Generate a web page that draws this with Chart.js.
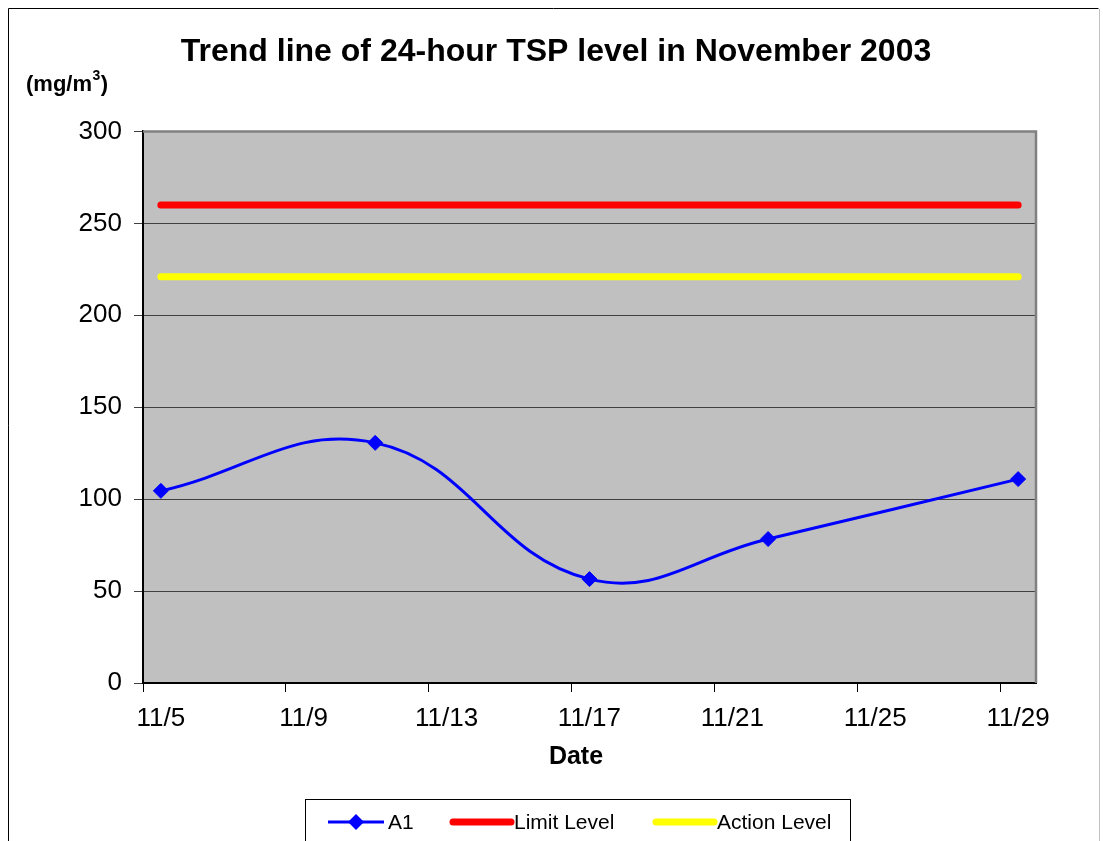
<!DOCTYPE html>
<html>
<head>
<meta charset="utf-8">
<script src="https://cdn.jsdelivr.net/npm/chart.js@4.4.1/dist/chart.umd.min.js"></script>
<style>
  html, body { margin: 0; padding: 0; background: #fff; }
  #wrap { width: 1103px; height: 841px; }
</style>
</head>
<body>
<div id="wrap"><canvas id="chart"></canvas></div>
<script>
const titleText = "Trend line of 24-hour TSP level in November 2003";
const unitText = "(mg/m";
const xTitle = "Date";

// sample dates (day of November 2003)
const sampleDays = [5, 11, 17, 22, 29];
const a1Values = [104.5, 130.6, 56.5, 78.3, 110.9];
const limitValues = [260, 260, 260, 260, 260];
const actionValues = [221, 221, 221, 221, 221];

const xTickDays = [5, 9, 13, 17, 21, 25, 29];

const FONT = "'Liberation Sans', Arial, sans-serif";

// excel date axis puts each day in the middle of its slot
function toPoints(values) {
  return sampleDays.map((d, i) => ({ x: d + 0.5, y: values[i] }));
}

const datasets = [
  {
    label: "A1",
    data: toPoints(a1Values),
    borderColor: "#0000ff",
    backgroundColor: "#0000ff",
    borderWidth: 3,
    tension: 0.42,
    pointStyle: "rectRot",
    pointRadius: 7.5,
    pointBorderWidth: 1,
  },
  {
    label: "Limit Level",
    data: toPoints(limitValues),
    borderColor: "#ff0000",
    backgroundColor: "#ff0000",
    borderWidth: 7,
    borderCapStyle: "round",
    pointRadius: 0,
  },
  {
    label: "Action Level",
    data: toPoints(actionValues),
    borderColor: "#ffff00",
    backgroundColor: "#ffff00",
    borderWidth: 7,
    borderCapStyle: "round",
    pointRadius: 0,
  },
];

// legend entries: line start/end and text start
const legendItems = [
  { x0: 328, x1: 384, tx: 388 },
  { x0: 453, x1: 511, tx: 514 },
  { x0: 656, x1: 714, tx: 717 },
];

const plotBackground = {
  id: "plotBackground",
  beforeDraw(chart) {
    const { ctx, chartArea: a } = chart;
    ctx.save();
    ctx.fillStyle = "#fff";
    ctx.fillRect(0, 0, chart.width, chart.height);
    // outer frame
    ctx.strokeStyle = "#000";
    ctx.lineWidth = 1;
    ctx.beginPath();
    ctx.moveTo(8.5, 845);
    ctx.lineTo(8.5, 8.5);
    ctx.lineTo(1098.5, 8.5);
    ctx.stroke();
    ctx.strokeStyle = "#c0c0c0";
    ctx.beginPath();
    ctx.moveTo(1099.5, 9);
    ctx.lineTo(1099.5, 845);
    ctx.stroke();
    ctx.fillStyle = "#c0c0c0";
    ctx.fillRect(a.left, a.top, a.right - a.left, a.bottom - a.top);
    ctx.restore();
  },
  beforeDatasetsDraw(chart) {
    const { ctx, chartArea: a } = chart;
    ctx.save();
    ctx.strokeStyle = "#808080";
    ctx.lineWidth = 2.5;
    ctx.beginPath();
    ctx.moveTo(a.left, a.top);
    ctx.lineTo(a.right, a.top);
    ctx.lineTo(a.right, a.bottom);
    ctx.stroke();
    ctx.restore();
  },
  afterDraw(chart) {
    const { ctx } = chart;
    ctx.save();
    // unit label
    ctx.fillStyle = "#000";
    ctx.textBaseline = "alphabetic";
    ctx.font = "bold 22px " + FONT;
    ctx.fillText(unitText, 26, 91);
    let x = 26 + ctx.measureText(unitText).width;
    ctx.font = "bold 14px " + FONT;
    ctx.fillText("3", x + 0.5, 80);
    x += ctx.measureText("3").width + 1;
    ctx.font = "bold 22px " + FONT;
    ctx.fillText(")", x, 91);

    // x axis title
    ctx.font = "bold 25px " + FONT;
    ctx.textAlign = "center";
    ctx.textBaseline = "middle";
    ctx.fillText(xTitle, 576, 757);

    // legend box
    ctx.textAlign = "left";
    ctx.strokeStyle = "#000";
    ctx.lineWidth = 1;
    ctx.strokeRect(305.5, 799.5, 545, 60);
    const ly = 822;
    ctx.font = "21px " + FONT;
    legendItems.forEach((it, i) => {
      const ds = chart.data.datasets[i];
      ctx.strokeStyle = ds.borderColor;
      ctx.lineWidth = ds.borderWidth;
      ctx.lineCap = i === 0 ? "butt" : "round";
      ctx.beginPath();
      ctx.moveTo(it.x0, ly);
      ctx.lineTo(it.x1, ly);
      ctx.stroke();
      if (i === 0) {
        const cx = (it.x0 + it.x1) / 2;
        ctx.fillStyle = ds.backgroundColor;
        ctx.beginPath();
        ctx.moveTo(cx - 8, ly);
        ctx.lineTo(cx, ly - 8);
        ctx.lineTo(cx + 8, ly);
        ctx.lineTo(cx, ly + 8);
        ctx.closePath();
        ctx.fill();
      }
      ctx.fillStyle = "#000";
      ctx.fillText(ds.label, it.tx, ly + 1);
    });
    ctx.restore();
  },
};

new Chart(document.getElementById("chart"), {
  type: "line",
  data: { datasets },
  options: {
    responsive: true,
    maintainAspectRatio: false,
    animation: false,
    layout: { padding: { left: 76, right: 67, top: 0, bottom: 68 } },
    plugins: {
      legend: { display: false },
      tooltip: { enabled: false },
      title: {
        display: true,
        text: titleText,
        color: "#000",
        font: { family: FONT, size: 32, weight: "bold" },
        padding: { top: 33, bottom: 60 },
      },
    },
    scales: {
      x: {
        type: "linear",
        min: 5,
        max: 30,
        afterBuildTicks(scale) {
          scale.ticks = xTickDays.map((v) => ({ value: v }));
        },
        afterFit(scale) {
          scale.height = 90;
        },
        ticks: {
          color: "#000",
          padding: 11,
          labelOffset: 17.8,
          maxRotation: 0,
          autoSkip: false,
          font: { family: FONT, size: 26 },
          callback: (v) => "11/" + v,
        },
        grid: { drawOnChartArea: false, tickLength: 9, color: "#000" },
        border: { color: "#000", width: 2 },
      },
      y: {
        min: 0,
        max: 300,
        afterFit(scale) {
          scale.width = 67;
        },
        ticks: {
          stepSize: 50,
          color: "#000",
          padding: 12,
          font: { family: FONT, size: 26 },
        },
        grid: { color: "#404040", tickLength: 9, lineWidth: 1 },
        border: { color: "#000", width: 2 },
      },
    },
  },
  plugins: [plotBackground],
});
</script>
</body>
</html>
